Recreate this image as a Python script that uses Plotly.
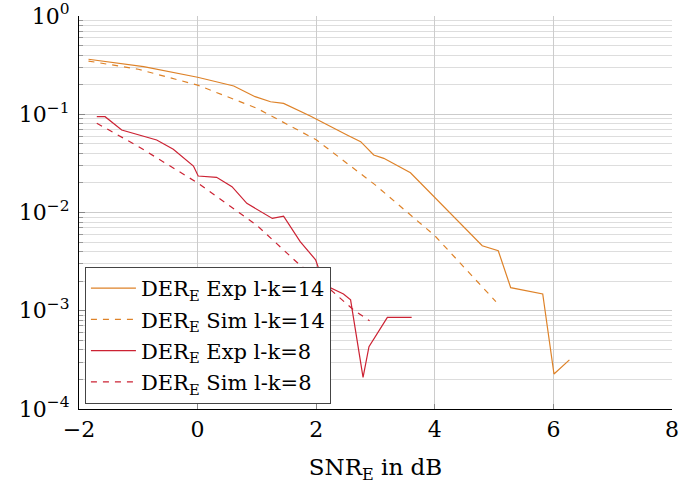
import plotly.graph_objects as go

# Data
exp14_x = [-1.84, -0.91, 0.0, 0.61, 0.97, 1.23, 1.45, 1.90, 2.52, 2.75, 2.97, 3.14, 3.59, 4.80, 5.07, 5.28, 5.82, 6.01, 6.27]
exp14_y = [0.363, 0.305, 0.238, 0.194, 0.151, 0.134, 0.129, 0.096, 0.0615, 0.0526, 0.0385, 0.0356, 0.0254, 0.00459, 0.00408, 0.00172, 0.00148, 0.000227, 0.000316]

sim14_x = [-1.84, -1.0, 0.0, 1.0, 2.0, 3.0, 4.0, 5.03]
sim14_y = [0.348, 0.287, 0.198, 0.115, 0.055, 0.019, 0.0058, 0.00124]

exp8_x = [-1.70, -1.56, -1.28, -0.69, -0.41, -0.07, 0.01, 0.32, 0.58, 0.83, 1.26, 1.45, 1.73, 1.99, 2.07, 2.25, 2.46, 2.58, 2.79, 2.89, 3.20, 3.61]
exp8_y = [0.0944, 0.0944, 0.069, 0.0547, 0.044, 0.0297, 0.0235, 0.0228, 0.0183, 0.0124, 0.0087, 0.0092, 0.00505, 0.0033, 0.0024, 0.0017, 0.00148, 0.00129, 0.00021, 0.00043, 0.000857, 0.000857]

sim8_x = [-1.70, -1.0, 0.0, 1.0, 1.73, 2.0, 2.63, 2.90]
sim8_y = [0.081, 0.047, 0.020, 0.0074, 0.0029, 0.0022, 0.00102, 0.00079]

x_ticks = [-2, 0, 2, 4, 6, 8]
x_tick_labels = ["−2", "0", "2", "4", "6", "8"]
y_ticks = [1e-4, 1e-3, 1e-2, 1e-1, 1e0]
y_tick_labels = ["10<sup>−4</sup>", "10<sup>−3</sup>", "10<sup>−2</sup>", "10<sup>−1</sup>", "10<sup>0</sup>"]
y_minor = [m * 10 ** e for e in range(-4, 0) for m in range(2, 10)]

ORANGE = "#DE8228"
RED = "#CC2233"
FONT = "DejaVu Serif"

fig = go.Figure()
fig.add_trace(go.Scatter(x=exp14_x, y=exp14_y, mode="lines", name="DER<sub>E</sub> Exp l-k=14",
                         legendgroup="a", line=dict(color=ORANGE, width=1.2)))
fig.add_trace(go.Scatter(x=sim14_x, y=sim14_y, mode="lines", name="DER<sub>E</sub> Sim l-k=14",
                         legendgroup="b", line=dict(color=ORANGE, width=1.2, dash="6px,6px")))
fig.add_trace(go.Scatter(x=exp8_x, y=exp8_y, mode="lines", name="DER<sub>E</sub> Exp l-k=8",
                         legendgroup="c", line=dict(color=RED, width=1.2)))
fig.add_trace(go.Scatter(x=sim8_x, y=sim8_y, mode="lines", name="DER<sub>E</sub> Sim l-k=8",
                         legendgroup="d", line=dict(color=RED, width=1.2, dash="6px,6px")))

fig.update_layout(
    width=680, height=488,
    margin=dict(l=79, r=8, t=16, b=79, autoexpand=False),
    paper_bgcolor="white", plot_bgcolor="white",
    font=dict(family=FONT, size=22, color="black"),
    legend=dict(x=0.01, y=0.013, xanchor="left", yanchor="bottom",
                bgcolor="white", bordercolor="#444444", borderwidth=1,
                font=dict(family=FONT, size=21), tracegroupgap=1,
                itemwidth=45),
    xaxis=dict(range=[-2, 8], tickvals=x_ticks, ticktext=x_tick_labels,
               showgrid=True, gridcolor="#CCCCCC", gridwidth=1,
               ticks="inside", ticklen=5, tickcolor="#888888",
               showline=True, linecolor="black", linewidth=1.2, mirror=False,
               zeroline=False, automargin=False,
               tickfont=dict(family=FONT, size=22),
               title=dict(text="SNR<sub>E</sub> in dB", font=dict(family=FONT, size=23), standoff=18)),
    yaxis=dict(type="log", range=[-4, 0], tickvals=y_ticks, ticktext=y_tick_labels,
               showgrid=True, gridcolor="#CCCCCC", gridwidth=1,
               ticks="inside", ticklen=6, tickcolor="#888888",
               showline=True, linecolor="black", linewidth=1.2, mirror=False,
               zeroline=False, automargin=False, ticklabelstandoff=4,
               tickfont=dict(family=FONT, size=22),
               minor=dict(tickvals=y_minor, showgrid=True, gridcolor="#DDDDDD", gridwidth=1,
                          ticks="inside", ticklen=4, tickcolor="#999999")),
)

fig.write_html("out.html", config={"displayModeBar": False},
               post_script="document.body.style.margin='0';document.body.style.overflow='hidden';")
